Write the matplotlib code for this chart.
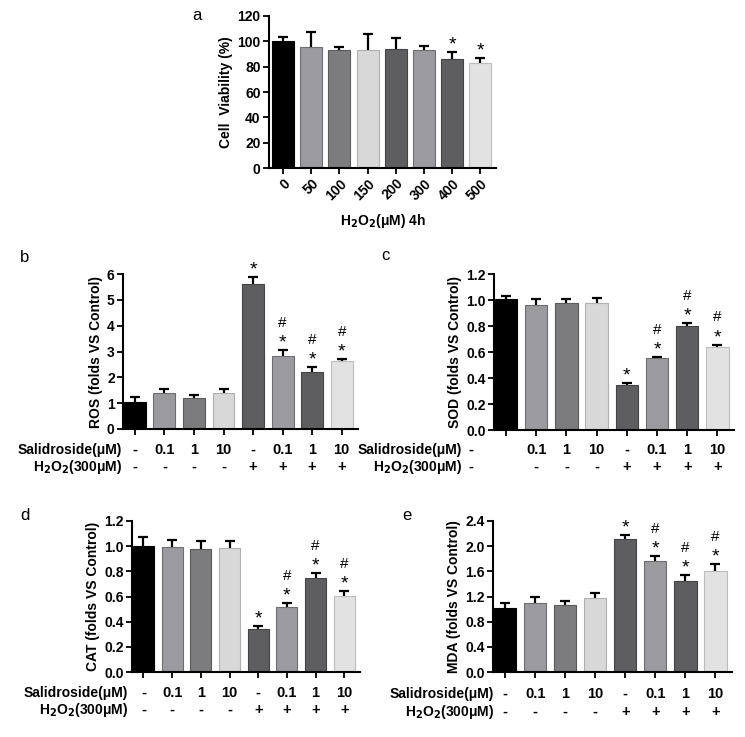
import matplotlib
matplotlib.use("Agg")
import matplotlib.pyplot as plt
from matplotlib.transforms import blended_transform_factory
import numpy as np

plt.rcParams['font.family'] = ['Liberation Sans', 'DejaVu Sans']
plt.rcParams['font.weight'] = 'bold'
plt.rcParams['axes.labelweight'] = 'bold'
plt.rcParams['mathtext.default'] = 'bf'

# ---------------- data ----------------
a_categories = ['0', '50', '100', '150', '200', '300', '400', '500']
a_means = [100.5, 95.5, 92.9, 93.4, 93.7, 92.9, 86.0, 83.2]
a_errs = [2.9, 11.5, 2.4, 12.6, 8.7, 3.4, 5.8, 3.6]
a_stars = ['', '', '', '', '', '', '*', '*']

salidroside_labels = ['-', '0.1', '1', '10', '-', '0.1', '1', '10']
h2o2_labels = ['-', '-', '-', '-', '+', '+', '+', '+']

ros_means = [1.05, 1.41, 1.19, 1.41, 5.61, 2.83, 2.19, 2.64]
ros_errs = [0.17, 0.13, 0.12, 0.13, 0.28, 0.21, 0.20, 0.06]

sod_means = [1.01, 0.96, 0.98, 0.975, 0.344, 0.556, 0.803, 0.635]
sod_errs = [0.02, 0.05, 0.03, 0.04, 0.02, 0.008, 0.018, 0.022]

cat_means = [1.004, 0.993, 0.975, 0.985, 0.344, 0.517, 0.75, 0.604]
cat_errs = [0.07, 0.055, 0.065, 0.06, 0.022, 0.031, 0.037, 0.037]

mda_means = [1.013, 1.09, 1.06, 1.18, 2.12, 1.767, 1.45, 1.61]
mda_errs = [0.087, 0.107, 0.074, 0.07, 0.05, 0.073, 0.09, 0.10]

treat_stars = ['', '', '', '', '*', '*', '*', '*']
treat_hashes = ['', '', '', '', '', '#', '#', '#']

bar_colors = ['#000000', '#9b9b9f', '#7c7c7e', '#d8d8d8',
              '#5e5e60', '#9b9b9f', '#5e5e60', '#e2e2e2']
edge_colors = ['#000000', '#6e6e70', '#5a5a5c', '#b0b0b0',
               '#444446', '#6e6e70', '#444446', '#bdbdbd']

W, H = 745, 737
fig = plt.figure(figsize=(W / 100, H / 100), dpi=100)


def ax_px(left, right, top, bottom):
    return fig.add_axes([left / W, (H - bottom) / H, (right - left) / W, (bottom - top) / H])


def style(ax, fs):
    for s in ['top', 'right']:
        ax.spines[s].set_visible(False)
    for s in ['left', 'bottom']:
        ax.spines[s].set_linewidth(1.5)
    ax.tick_params(axis='both', direction='out', length=4.5, width=1.3, labelsize=fs, pad=1.5)
    for lab in ax.get_yticklabels() + ax.get_xticklabels():
        lab.set_fontweight('bold')


def draw_bars(ax, means, errs, width):
    x = np.arange(len(means))
    ax.errorbar(x, means, yerr=errs, fmt='none', ecolor='black', elinewidth=1.6,
                capsize=3.5, capthick=1.6, zorder=1)
    ax.bar(x, means, width=width, color=bar_colors, edgecolor=edge_colors,
           linewidth=0.8, zorder=2)
    return x


def annotate(ax, x, means, errs, stars, hashes=None):
    for i in range(len(means)):
        top = means[i] + errs[i]
        if stars[i]:
            ax.annotate(stars[i], (x[i], top), xytext=(0, -1), textcoords='offset points',
                        ha='center', va='bottom', fontsize=14, fontweight='normal')
        if hashes is not None and hashes[i]:
            ax.annotate(hashes[i], (x[i], top), xytext=(0, 14.5), textcoords='offset points',
                        ha='center', va='bottom', fontsize=11, fontweight='normal')


# ---------------- panel a ----------------
axa = ax_px(269, 496, 16, 168)
xa = draw_bars(axa, a_means, a_errs, 0.78)
annotate(axa, xa, a_means, a_errs, a_stars)
axa.set_ylim(0, 120)
axa.set_yticks(np.arange(0, 121, 20))
axa.set_xlim(-0.5, 7.55)
axa.set_xticks(xa)
axa.set_xticklabels(a_categories, rotation=45, ha='right', va='top', rotation_mode='anchor')
style(axa, 10)
axa.set_ylabel('Cell  Viability (%)', fontsize=10, labelpad=3)
axa.set_xlabel('H$_2$O$_2$(μM) 4h', fontsize=10, labelpad=7)
fig.text(197 / W, 1 - 15 / H, 'a', fontsize=12, fontweight='normal', ha='center', va='center')


# ---------------- panels b-e ----------------
def treatment_panel(box, means, errs, ylim, yticks, ylabel, fmt, letter, letter_xy,
                    rows_y, label_right, first_col_x=None):
    ax = ax_px(*box)
    x = draw_bars(ax, means, errs, 0.74)
    annotate(ax, x, means, errs, treat_stars, treat_hashes)
    ax.set_ylim(*ylim)
    ax.set_yticks(yticks)
    ax.set_yticklabels([fmt.format(v) for v in yticks])
    ax.set_xlim(-0.4, 7.55)
    ax.set_xticks(x)
    ax.set_xticklabels([])
    style(ax, 10)
    ax.set_ylabel(ylabel, fontsize=10, labelpad=3)
    tr = blended_transform_factory(ax.transData, fig.transFigure)
    cols = list(x.astype(float))
    if first_col_x is not None:
        cols[0] = first_col_x
    for lab_row, ypx in zip([salidroside_labels, h2o2_labels], rows_y):
        for xi, lab in zip(cols, lab_row):
            ax.text(xi, 1 - ypx / H, lab, transform=tr, ha='center', va='center', fontsize=10.5)
    fig.text(label_right / W, 1 - rows_y[0] / H, 'Salidroside(μM)', ha='right', va='center',
             fontsize=10)
    fig.text(label_right / W, 1 - rows_y[1] / H, 'H$_2$O$_2$(300μM)', ha='right', va='center',
             fontsize=10)
    fig.text(letter_xy[0] / W, 1 - letter_xy[1] / H, letter, fontsize=12, fontweight='normal',
             ha='center', va='center')
    return ax


treatment_panel((123, 358, 274, 429), ros_means, ros_errs, (0, 6), np.arange(0, 7, 1),
                'ROS (folds VS Control)', '{:.0f}', 'b', (25, 257), (450, 467), 122)
treatment_panel((494, 734, 274, 430), sod_means, sod_errs, (0, 1.2), np.arange(0, 1.21, 0.2),
                'SOD (folds VS Control)', '{:.1f}', 'c', (385, 256), (450, 467), 462,
                first_col_x=-1.15)
treatment_panel((132, 360, 521, 672), cat_means, cat_errs, (0, 1.2), np.arange(0, 1.21, 0.2),
                'CAT (folds VS Control)', '{:.1f}', 'd', (25, 515), (693, 710), 128)
treatment_panel((493, 732, 521, 672), mda_means, mda_errs, (0, 2.4), np.arange(0, 2.41, 0.4),
                'MDA (folds VS Control)', '{:.1f}', 'e', (407, 515), (694, 712), 494)

fig.savefig('out.png', dpi=100)
